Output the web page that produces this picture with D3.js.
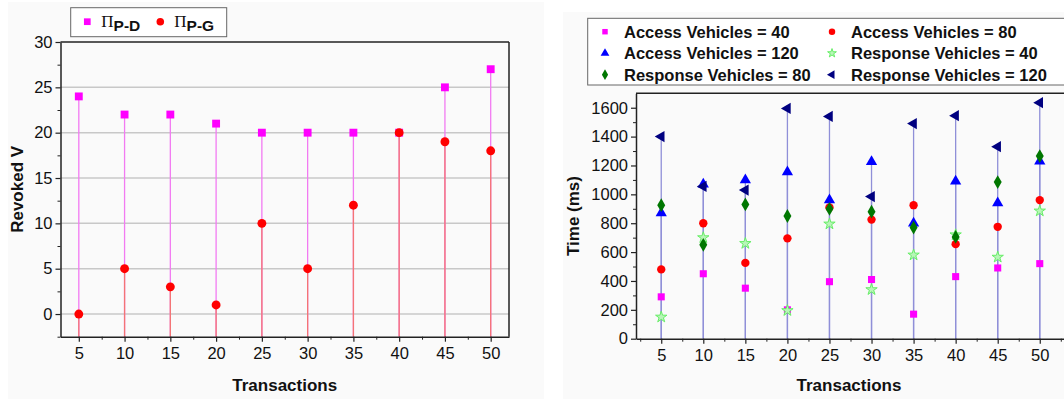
<!DOCTYPE html>
<html lang="en">
<head>
<meta charset="UTF-8">
<title>Revoked V and Time</title>
<style>
    body { margin: 0; background: #fff; }
    svg text { font-family: Arial, "Liberation Sans", sans-serif; fill: #111; }
    .tick text { font-size: 16.5px; }
    .axis-title { font-size: 17px; font-weight: bold; }
    .leg-text { font-size: 16.5px; font-weight: bold; }
</style>
</head>
<body>
<svg id="chart"></svg>
<script src="https://cdnjs.cloudflare.com/ajax/libs/d3/7.9.0/d3.min.js"></script>
<script>
    // ---- data ----
    const transactions = [5, 10, 15, 20, 25, 30, 35, 40, 45, 50];

    // left: revoked V
    const piPD = [24, 22, 22, 21, 20, 20, 20, 20, 25, 27];
    const piPG = [0, 5, 3, 1, 10, 5, 12, 20, 19, 18];

    // right: time (ms)
    const access40 = [290, 450, 350, 200, 395, 410, 170, 430, 490, 520];
    const access80 = [480, 800, 525, 695, 910, 825, 925, 655, 775, 960];
    const access120 = [870, 1070, 1100, 1155, 960, 1225, 800, 1090, 940, 1230];
    const response40 = [150, 700, 660, 195, 795, 340, 580, 720, 565, 885];
    const response80 = [925, 650, 930, 850, 900, 880, 770, 705, 1085, 1265];
    const response120 = [1400, 1055, 1030, 1595, 1540, 985, 1490, 1545, 1330, 1635];

    const leftTicksY = [0, 5, 10, 15, 20, 25, 30];
    const rightTicksY = [0, 200, 400, 600, 800, 1000, 1200, 1400, 1600];

    const W = 1064, H = 399;
    const svg = d3.select("#chart").attr("width", W).attr("height", H);

    // faint panel backgrounds
    svg.append("rect").attr("x", 8).attr("y", 2).attr("width", 536).attr("height", 397).attr("fill", "#fafafa");
    svg.append("rect").attr("x", 563).attr("y", 12).attr("width", 501).attr("height", 387).attr("fill", "#fafafa");

    function drawFrame(g, x, y, xMinor, yMinor, yTicks) {
        const [x0, x1] = x.range();
        const [y0, y1] = y.range();
        // minor ticks
        g.append("g").attr("transform", `translate(0,${y0})`)
            .call(d3.axisBottom(x).tickValues(xMinor).tickSize(3).tickFormat(""))
            .call(a => a.select(".domain").remove());
        g.append("g").attr("transform", `translate(${x0},0)`)
            .call(d3.axisLeft(y).tickValues(yMinor).tickSize(3).tickFormat(""))
            .call(a => a.select(".domain").remove());
        // major axes
        const xa = g.append("g").attr("transform", `translate(0,${y0})`)
            .call(d3.axisBottom(x).tickValues(transactions).tickSize(5).tickSizeOuter(0).tickPadding(6));
        const ya = g.append("g").attr("transform", `translate(${x0},0)`)
            .call(d3.axisLeft(y).tickValues(yTicks).tickFormat(d3.format("d"))
                .tickSize(5).tickSizeOuter(0).tickPadding(3));
        [xa, ya].forEach(a => {
            a.select(".domain").attr("stroke", "#222").attr("stroke-width", 1.5);
            a.selectAll(".tick line").attr("stroke", "#222").attr("stroke-width", 1.2);
            a.selectAll(".tick text").attr("fill", "#111");
        });
        g.selectAll(".tick line").attr("stroke", "#222");
        // top and right frame
        g.append("line").attr("x1", x0).attr("x2", x1).attr("y1", y1).attr("y2", y1)
            .attr("stroke", "#222").attr("stroke-width", 1.5);
        g.append("line").attr("x1", x1).attr("x2", x1).attr("y1", y1).attr("y2", y0)
            .attr("stroke", "#222").attr("stroke-width", 1.5);
    }

    // ================= LEFT CHART =================
    const xL = d3.scaleLinear().domain([3, 52]).range([60.5, 509]);
    const yL = d3.scaleLinear().domain([-2.5, 30]).range([336.7, 42]);
    const gL = svg.append("g");

    // gridlines
    gL.selectAll(".grid").data(leftTicksY.filter(v => v < 30)).enter().append("line")
        .attr("x1", xL.range()[0]).attr("x2", xL.range()[1])
        .attr("y1", d => yL(d)).attr("y2", d => yL(d))
        .attr("stroke", "#c8c8c8").attr("stroke-width", 1.5);

    const leftSeries = [
        { vals: piPD, color: "#ff00ff", stem: "#f27af2", shape: d3.symbolSquare, size: 62 },
        { vals: piPG, color: "#ff0000", stem: "#f47474", shape: d3.symbolCircle, size: 62 }
    ];
    leftSeries.forEach(s => {
        gL.selectAll(null).data(transactions).enter().append("line")
            .attr("x1", d => xL(d)).attr("x2", d => xL(d))
            .attr("y1", yL(-2.5)).attr("y2", (d, i) => yL(s.vals[i]))
            .attr("stroke", s.stem).attr("stroke-width", 1.3);
    });
    leftSeries.forEach(s => {
        gL.selectAll(null).data(transactions).enter().append("path")
            .attr("d", d3.symbol().type(s.shape).size(s.size))
            .attr("transform", (d, i) => `translate(${xL(d)},${yL(s.vals[i])})`)
            .attr("fill", s.color);
    });

    drawFrame(gL, xL, yL, d3.range(2.5, 52, 2.5).filter(v => v % 5 !== 0 && v > 3),
        d3.range(-2.5, 30, 2.5).filter(v => v % 5 !== 0), leftTicksY);

    gL.append("text").attr("class", "axis-title").attr("text-anchor", "middle")
        .attr("x", (xL.range()[0] + xL.range()[1]) / 2).attr("y", 391).text("Transactions");
    gL.append("text").attr("class", "axis-title").attr("text-anchor", "middle")
        .attr("transform", `translate(23,${(yL.range()[0] + yL.range()[1]) / 2}) rotate(-90)`)
        .text("Revoked V");

    // left legend
    const legL = svg.append("g");
    legL.append("rect").attr("x", 70.7).attr("y", 7.7).attr("width", 156).attr("height", 29)
        .attr("fill", "#fff").attr("stroke", "#666").attr("stroke-width", 1);
    const legLItems = [
        { s: leftSeries[0], sub: "P-D", x: 87.3 },
        { s: leftSeries[1], sub: "P-G", x: 160.3 }
    ];
    legLItems.forEach(it => {
        legL.append("path").attr("d", d3.symbol().type(it.s.shape).size(45)())
            .attr("transform", `translate(${it.x},21.7)`).attr("fill", it.s.color);
        const t = legL.append("text").attr("x", it.x + 14).attr("y", 26.5);
        t.append("tspan").style("font-family", "'Liberation Serif', 'Times New Roman', serif")
            .style("font-size", "17px").text("\u03A0");
        t.append("tspan").attr("dy", 4.5).style("font-size", "15.5px").style("font-weight", "bold")
            .text(it.sub);
    });

    // ================= RIGHT CHART =================
    const xR = d3.scaleLinear().domain([2, 53]).range([636, 1065]);
    const yR = d3.scaleLinear().domain([0, 1700]).range([338.7, 93.3]);
    const gR = svg.append("g");

    const rightSeries = [
        { name: "Access Vehicles = 40", vals: access40, color: "#ff00ff", shape: d3.symbolSquare, size: 50 },
        { name: "Access Vehicles = 80", vals: access80, color: "#ff0000", shape: d3.symbolCircle, size: 55 },
        { name: "Access Vehicles = 120", vals: access120, color: "#0000ff", shape: d3.symbolTriangle, size: 55 },
        { name: "Response Vehicles = 40", vals: response40, color: "#66ee66", shape: d3.symbolStar, size: 40, hollow: true },
        { name: "Response Vehicles = 80", vals: response80, color: "#007700", shape: d3.symbolDiamond, size: 55 },
        { name: "Response Vehicles = 120", vals: response120, color: "#000080", shape: d3.symbolTriangle, size: 55, rot: -90 }
    ];

    // stems up to the highest point of the 120 series
    [access120, response120].forEach(vals => {
        gR.selectAll(null).data(transactions).enter().append("line")
            .attr("x1", d => xR(d)).attr("x2", d => xR(d))
            .attr("y1", yR(0)).attr("y2", (d, i) => yR(vals[i]))
            .attr("stroke", "#8f8fd8").attr("stroke-width", 1.3);
    });

    function marker(sel, s, size) {
        sel.attr("d", d3.symbol().type(s.shape).size(size || s.size))
            .attr("fill", s.hollow ? "#b8f5b8" : s.color)
            .attr("stroke", s.hollow ? s.color : "none")
            .attr("stroke-width", s.hollow ? 1 : 0);
    }
    rightSeries.forEach(s => {
        gR.selectAll(null).data(transactions).enter().append("path")
            .call(marker, s)
            .attr("transform", (d, i) => `translate(${xR(d)},${yR(s.vals[i])}) rotate(${s.rot || 0})`);
    });

    drawFrame(gR, xR, yR, d3.range(2.5, 53, 2.5).filter(v => v % 5 !== 0),
        d3.range(100, 1700, 200), rightTicksY);

    gR.append("text").attr("class", "axis-title").attr("text-anchor", "middle")
        .attr("x", 849).attr("y", 391).text("Transactions");
    gR.append("text").attr("class", "axis-title").attr("text-anchor", "middle")
        .attr("transform", `translate(579,${(yR.range()[0] + yR.range()[1]) / 2}) rotate(-90)`)
        .text("Time (ms)");

    // right legend
    const legR = svg.append("g");
    legR.append("rect").attr("x", 587.7).attr("y", 18.3).attr("width", 500).attr("height", 66.7)
        .attr("fill", "#fff").attr("stroke", "#666").attr("stroke-width", 1);
    const rowsY = [31.7, 53.2, 74.7];
    const colX = [605, 832];
    rightSeries.forEach((s, i) => {
        const cx = colX[i % 2], cy = rowsY[Math.floor(i / 2)];
        legR.append("path").call(marker, s, s.size * 0.6)
            .attr("transform", `translate(${cx},${cy}) rotate(${s.rot || 0})`);
        legR.append("text").attr("class", "leg-text")
            .attr("x", cx + 19).attr("y", cy + 6).text(s.name);
    });
</script>
</body>
</html>
